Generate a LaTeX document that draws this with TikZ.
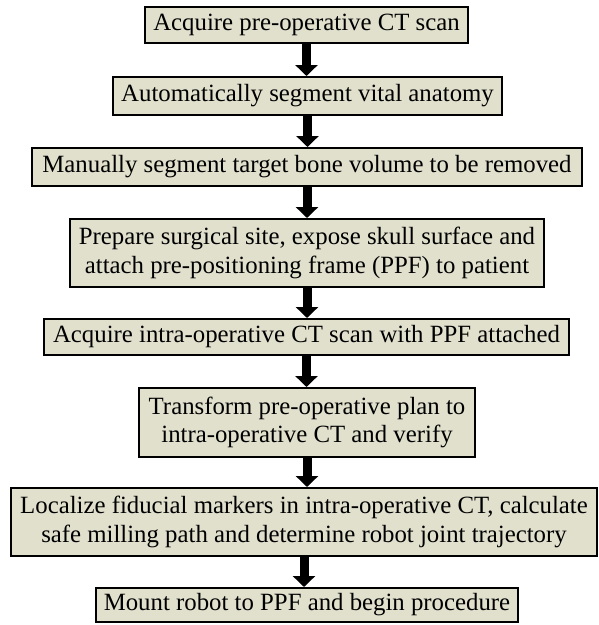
\documentclass[tikz,border=0pt]{standalone}
\usepackage{fontspec}
\setmainfont{Liberation Serif}
\usetikzlibrary{arrows.meta,shadows}
\definecolor{boxfill}{RGB}{225,224,205}
\tikzset{
  flowbox/.style={draw=black, line width=2pt, fill=boxfill, align=center,
    inner sep=0pt, outer sep=0pt, font=\fontsize{24.8}{28.5}\selectfont,
    drop shadow={shadow xshift=1.2pt, shadow yshift=-1.2pt, fill=black, opacity=1}},
  flowarrow/.style={line width=9pt, -{Triangle[width=22pt,length=11pt]}, black}
}
\begin{document}
\begin{tikzpicture}[x=1pt,y=-1pt]
\useasboundingbox (0,0) rectangle (599,625);
\node[flowbox, minimum width=323pt, minimum height=36pt] (b1) at (306.5,25) {Acquire pre-operative CT scan};
\node[flowbox, minimum width=389pt, minimum height=38pt] (b2) at (307.5,96) {Automatically segment vital anatomy};
\node[flowbox, minimum width=550pt, minimum height=38pt] (b3) at (307,167) {Manually segment target bone volume to be removed};
\node[flowbox, minimum width=474pt, minimum height=68pt] (b4) at (307,253) {Prepare surgical site, expose skull surface and\\attach pre-positioning frame (PPF) to patient};
\node[flowbox, minimum width=525pt, minimum height=36pt] (b5) at (306.5,337) {Acquire intra-operative CT scan with PPF attached};
\node[flowbox, minimum width=336pt, minimum height=69pt] (b6) at (307,422.5) {Transform pre-operative plan to\\intra-operative CT and verify};
\node[flowbox, minimum width=586pt, minimum height=68pt] (b7) at (304,522) {Localize fiducial markers in intra-operative CT, calculate\\safe milling path and determine robot joint trajectory};
\node[flowbox, minimum width=422pt, minimum height=34pt] (b8) at (307,605) {Mount robot to PPF and begin procedure};
\foreach \a/\b in {b1/b2,b2/b3,b3/b4,b4/b5,b5/b6,b6/b7,b7/b8}{
  \draw[flowarrow] ([yshift=-1pt]\a.south) -- ([yshift=1pt]\a.south |- \b.north);
}
\end{tikzpicture}
\end{document}
